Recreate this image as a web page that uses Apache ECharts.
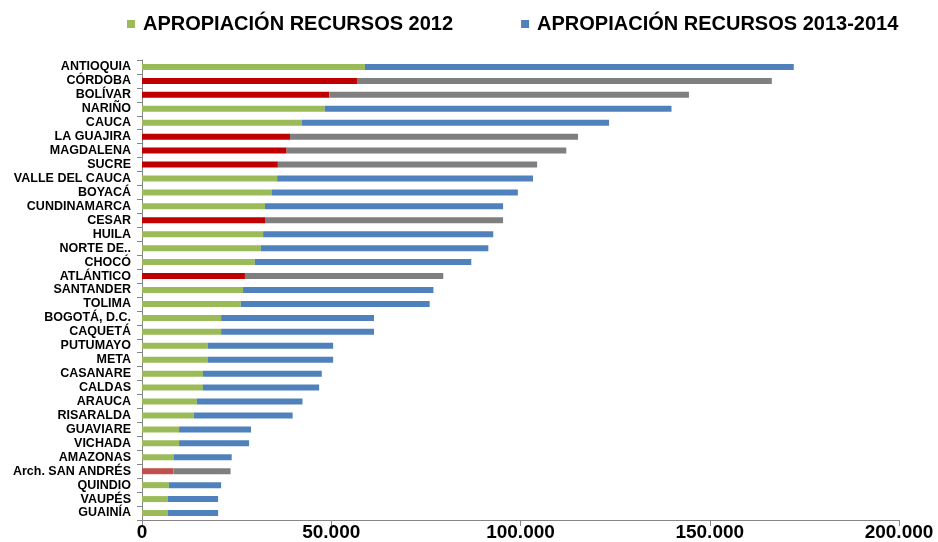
<!DOCTYPE html>
<html>
<head>
<meta charset="utf-8">
<script src="https://cdn.jsdelivr.net/npm/echarts@6/dist/echarts.min.js"></script>
<style>
    html, body { margin: 0; padding: 0; background: #fff; }
    #chart { width: 938px; height: 542px; }
</style>
</head>
<body>
<div id="chart"></div>
<script>
// departamentos, de arriba hacia abajo
const departamentos = [
    "ANTIOQUIA", "CÓRDOBA", "BOLÍVAR", "NARIÑO", "CAUCA", "LA GUAJIRA",
    "MAGDALENA", "SUCRE", "VALLE DEL CAUCA", "BOYACÁ", "CUNDINAMARCA", "CESAR",
    "HUILA", "NORTE DE..", "CHOCÓ", "ATLÁNTICO", "SANTANDER", "TOLIMA",
    "BOGOTÁ, D.C.", "CAQUETÁ", "PUTUMAYO", "META", "CASANARE", "CALDAS",
    "ARAUCA", "RISARALDA", "GUAVIARE", "VICHADA", "AMAZONAS", "Arch. SAN ANDRÉS",
    "QUINDIO", "VAUPÉS", "GUAINÍA"
];

// apropiacion 2012 (millones)
const recursos2012 = [
    58900, 56800, 49500, 48300, 42200, 39100,
    38200, 35900, 35700, 34300, 32500, 32500,
    32000, 31400, 29800, 27200, 26700, 26100,
    20900, 20900, 17400, 17400, 16100, 16100,
    14500, 13700, 9800, 9800, 8300, 8300,
    7100, 6800, 6800
];

// apropiacion 2013-2014 (millones)
const recursos2013_2014 = [
    113300, 109600, 95000, 91600, 81200, 76100,
    73900, 68500, 67600, 65000, 62900, 62900,
    60800, 60100, 57200, 52400, 50300, 49900,
    40400, 40400, 33100, 33100, 31400, 30700,
    27900, 26100, 19000, 18500, 15400, 15100,
    13800, 13300, 13300
];

// departamentos resaltados (rojo / gris)
const resaltados = ["CÓRDOBA", "BOLÍVAR", "LA GUAJIRA", "MAGDALENA", "SUCRE", "CESAR", "ATLÁNTICO", "Arch. SAN ANDRÉS"];

const xTicks = [0, 50000, 100000, 150000, 200000];

const verde = "#9bbb59", azul = "#4f81bd", rojo = "#c00000", rojoClaro = "#c0504d", gris = "#7f7f7f";
const fuente = "'Liberation Sans', Arial, sans-serif";

function colorear(valores, base, alterno) {
    return valores.map(function (v, i) {
        const d = departamentos[i];
        if (resaltados.indexOf(d) >= 0) {
            let c = alterno;
            if (d === "Arch. SAN ANDRÉS" && alterno === rojo) c = rojoClaro;
            return { value: v, itemStyle: { color: c } };
        }
        return v;
    });
}

const chart = echarts.init(document.getElementById("chart"));
chart.setOption({
    animation: false,
    legend: {
        left: 122,
        top: 9,
        itemWidth: 8,
        itemHeight: 8,
        itemGap: 68,
        icon: "rect",
        textStyle: { fontFamily: fuente, fontSize: 20, fontWeight: "bold", color: "#000", padding: [0, 0, 0, 3] },
        data: ["APROPIACIÓN RECURSOS 2012", "APROPIACIÓN RECURSOS 2013-2014"]
    },
    grid: { left: 142, right: 39, top: 60, bottom: 21 },
    xAxis: {
        type: "value",
        min: 0,
        max: 200000,
        interval: 50000,
        splitLine: { show: false },
        axisLine: { show: true, lineStyle: { color: "#868686" } },
        axisTick: { show: true, length: 6, lineStyle: { color: "#868686" } },
        axisLabel: {
            margin: 3,
            fontFamily: fuente,
            fontSize: 19,
            fontWeight: "bold",
            color: "#000",
            formatter: function (v) {
                return xTicks.indexOf(v) >= 0 ? String(v).replace(/\B(?=(\d{3})+(?!\d))/g, ".") : "";
            }
        }
    },
    yAxis: {
        type: "category",
        inverse: true,
        data: departamentos,
        axisLine: { show: true, lineStyle: { color: "#868686" } },
        axisTick: { show: true, length: 5, interval: 0, lineStyle: { color: "#868686" } },
        axisLabel: {
            interval: 0,
            margin: 11,
            fontFamily: fuente,
            fontSize: 12.5,
            fontWeight: "bold",
            color: "#000"
        }
    },
    series: [
        {
            name: "APROPIACIÓN RECURSOS 2012",
            type: "bar",
            stack: "total",
            barWidth: 6,
            itemStyle: { color: verde },
            data: colorear(recursos2012, verde, rojo)
        },
        {
            name: "APROPIACIÓN RECURSOS 2013-2014",
            type: "bar",
            stack: "total",
            barWidth: 6,
            itemStyle: { color: azul },
            data: colorear(recursos2013_2014, azul, gris)
        }
    ]
});
</script>
</body>
</html>
